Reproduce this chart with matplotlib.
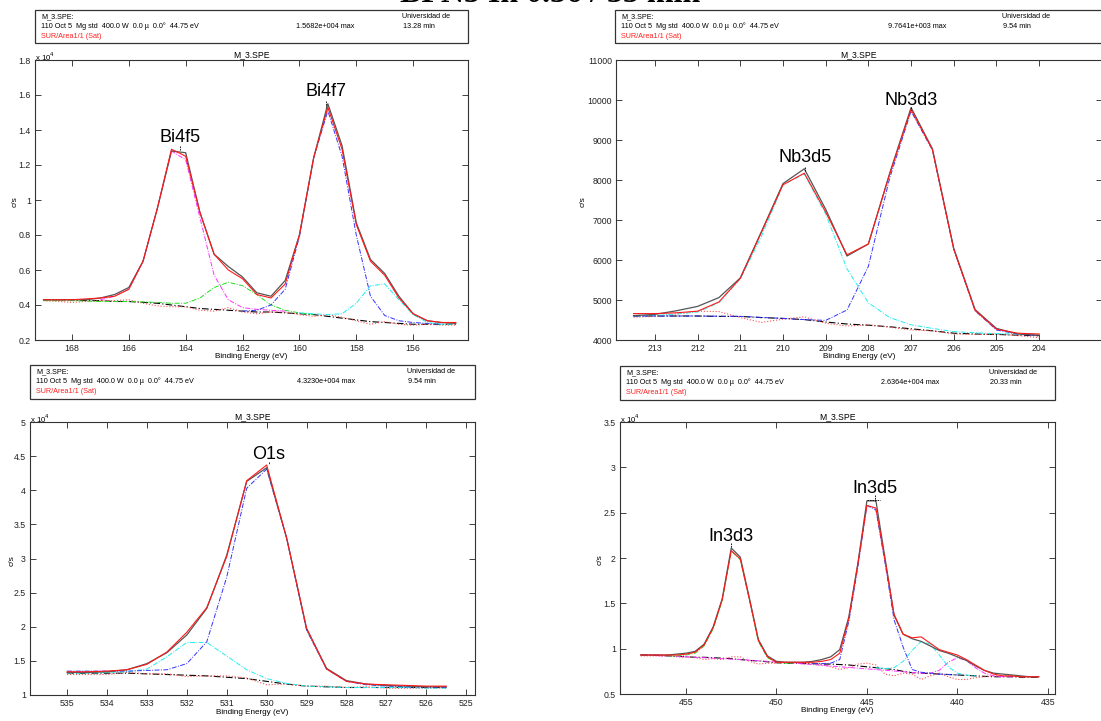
import matplotlib
matplotlib.use("Agg")
import matplotlib.pyplot as plt
from matplotlib.patches import Rectangle
from matplotlib.ticker import FuncFormatter

plt.rcParams['font.family'] = ['Liberation Sans', 'DejaVu Sans']

W, H = 1101, 721

# ---------------- Data ----------------
# Panel 1: Bi 4f
bi_x = [169, 168.5, 168, 167.5, 167, 166.5, 166, 165.5, 165, 164.5, 164, 163.5, 163, 162.5, 162,
        161.5, 161, 160.5, 160, 159.5, 159, 158.5, 158, 157.5, 157, 156.5, 156, 155.5, 155, 154.5]
bi_raw = [.43, .43, .43, .43, .44, .46, .50, .65, .95, 1.28, 1.27, .93, .69, .62, .56,
          .47, .45, .54, .80, 1.24, 1.55, 1.31, .87, .66, .58, .45, .35, .31, .30, .295]
bi_fit = [.43, .43, .43, .435, .44, .45, .49, .65, .95, 1.29, 1.25, .93, .69, .60, .55,
          .46, .44, .52, .80, 1.24, 1.53, 1.29, .86, .65, .57, .44, .35, .31, .30, .30]
bi_bg = [.43, .43, .43, .425, .425, .42, .42, .415, .41, .40, .39, .38, .375, .37, .365,
         .36, .36, .355, .35, .345, .335, .325, .315, .305, .30, .295, .29, .29, .29, .29]
bi_res = [.425, .42, .415, .42, .425, .425, .43, .41, .395, .39, .39, .37, .365, .385, .36,
          .35, .36, .36, .345, .335, .345, .33, .31, .29, .305, .29, .285, .29, .285, .285]
bi_mag_x = [167, 166.5, 166, 165.5, 165, 164.5, 164, 163.5, 163, 162.5, 162, 161.5, 161, 160.5]
bi_mag_y = [.43, .45, .49, .65, .95, 1.28, 1.23, .90, .57, .43, .385, .375, .37, .365]
bi_grn_x = [169, 168, 167, 166, 165, 164.5, 164, 163.5, 163, 162.5, 162, 161.5, 161, 160.5, 160, 159.5]
bi_grn_y = [.425, .425, .42, .42, .415, .41, .41, .44, .50, .53, .51, .46, .40, .37, .355, .345]
bi_blu_x = [162, 161.5, 161, 160.5, 160, 159.5, 159, 158.5, 158, 157.5, 157, 156.5, 156, 155.5, 155]
bi_blu_y = [.365, .37, .40, .49, .79, 1.24, 1.51, 1.25, .80, .45, .34, .31, .30, .295, .29]
bi_cya_x = [160, 159.5, 159, 158.5, 158, 157.5, 157, 156.5, 156, 155.5, 155, 154.5]
bi_cya_y = [.355, .35, .345, .35, .41, .51, .52, .43, .345, .30, .29, .29]

# Panel 2: Nb 3d
nb_x = [213.5, 213, 212.5, 212, 211.5, 211, 210.5, 210, 209.5, 209,
        208.5, 208, 207.5, 207, 206.5, 206, 205.5, 205, 204.5, 204]
nb_raw = [4610, 4640, 4730, 4840, 5060, 5550, 6720, 7910, 8280, 7270,
          6100, 6400, 8170, 9810, 8780, 6290, 4760, 4290, 4150, 4120]
nb_fit = [4660, 4660, 4680, 4720, 4950, 5540, 6700, 7880, 8170, 7200,
          6130, 6400, 8150, 9760, 8760, 6270, 4740, 4270, 4170, 4150]
nb_bg = [4600, 4600, 4600, 4600, 4590, 4590, 4560, 4540, 4510, 4450,
         4400, 4370, 4330, 4280, 4230, 4170, 4150, 4140, 4120, 4110]
nb_res = [4570, 4590, 4650, 4720, 4710, 4560, 4440, 4520, 4580, 4420,
          4350, 4380, 4320, 4250, 4230, 4150, 4140, 4150, 4110, 4060]
nb_cya_y = [4600, 4610, 4650, 4700, 4930, 5530, 6600, 7880, 8150, 7150,
            5780, 4930, 4560, 4380, 4290, 4210, 4180, 4160, 4150, 4140]
nb_blu_x = [213.5, 212, 211, 210, 209.5, 209, 208.5, 208, 207.5, 207, 206.5, 206, 205.5, 205, 204.5, 204]
nb_blu_y = [4600, 4600, 4590, 4540, 4510, 4490, 4750, 5840, 8050, 9720, 8750, 6270, 4730, 4250, 4150, 4100]

# Panel 3: O 1s  (x 10^4 c/s)
o_x = [535, 534.5, 534, 533.5, 533, 532.5, 532, 531.5, 531, 530.5,
       530, 529.5, 529, 528.5, 528, 527.5, 527, 526.5, 526, 525.5]
o_raw = [1.33, 1.33, 1.34, 1.37, 1.46, 1.62, 1.88, 2.27, 3.05, 4.13,
         4.33, 3.30, 1.97, 1.39, 1.21, 1.16, 1.14, 1.13, 1.12, 1.12]
o_fit = [1.34, 1.34, 1.35, 1.37, 1.45, 1.63, 1.92, 2.28, 3.03, 4.14,
         4.37, 3.30, 1.98, 1.38, 1.20, 1.16, 1.15, 1.14, 1.13, 1.13]
o_bg = [1.32, 1.32, 1.32, 1.32, 1.31, 1.30, 1.29, 1.28, 1.26, 1.24,
        1.20, 1.16, 1.13, 1.12, 1.11, 1.11, 1.11, 1.11, 1.11, 1.11]
o_res = [1.30, 1.30, 1.30, 1.33, 1.31, 1.31, 1.27, 1.28, 1.28, 1.25,
         1.15, 1.16, 1.13, 1.13, 1.11, 1.12, 1.10, 1.10, 1.10, 1.10]
o_cya = [1.32, 1.32, 1.33, 1.34, 1.38, 1.56, 1.77, 1.77, 1.57, 1.37,
         1.24, 1.17, 1.13, 1.12, 1.11, 1.11, 1.11, 1.11, 1.10, 1.10]
o_blu = [1.35, 1.35, 1.35, 1.35, 1.36, 1.37, 1.46, 1.78, 2.73, 4.03,
         4.31, 3.30, 1.95, 1.38, 1.20, 1.15, 1.13, 1.12, 1.12, 1.11]

# Panel 4: In 3d  (x 10^4 c/s)
in_x = [457.5, 457, 456.5, 456, 455.5, 455, 454.5, 454, 453.5, 453,
        452.5, 452, 451.5, 451, 450.5, 450, 449.5, 449, 448.5, 448,
        447.5, 447, 446.5, 446, 445.5, 445, 444.5, 444, 443.5, 443,
        442.5, 442, 441.5, 441, 440.5, 440, 439.5, 439, 438.5, 438,
        437.5, 437, 436.5, 436, 435.5]
in_raw = [.93, .93, .93, .93, .94, .95, .97, 1.05, 1.24, 1.55,
          2.11, 2.01, 1.56, 1.10, .92, .86, .85, .85, .85, .86,
          .88, .91, .99, 1.35, 1.94, 2.63, 2.63, 2.00, 1.37, 1.16,
          1.11, 1.08, 1.03, .98, .95, .91, .87, .81, .76, .73,
          .72, .71, .70, .69, .69]
in_fit = [.93, .93, .93, .93, .93, .94, .96, 1.04, 1.23, 1.54,
          2.08, 1.99, 1.55, 1.09, .91, .85, .85, .85, .85, .85,
          .86, .88, .95, 1.33, 1.93, 2.58, 2.55, 1.98, 1.38, 1.16,
          1.12, 1.13, 1.06, .99, .96, .93, .88, .82, .76, .72,
          .70, .70, .69, .69, .69]
in_bg = [.93, .93, .925, .92, .915, .91, .905, .905, .90, .895,
         .89, .88, .87, .865, .855, .845, .84, .84, .835, .835,
         .83, .83, .825, .82, .81, .80, .79, .78, .77, .75,
         .735, .73, .725, .72, .715, .71, .705, .70, .695, .69,
         .69, .69, .685, .685, .685]
in_res = [.92, .92, .92, .92, .91, .91, .90, .88, .89, .88,
          .91, .91, .86, .83, .84, .84, .85, .85, .84, .84,
          .82, .80, .77, .79, .83, .84, .82, .72, .70, .73,
          .72, .66, .70, .73, .69, .66, .66, .68, .69, .70,
          .70, .70, .69, .69, .69]
in_grn_x = [456, 455.5, 455, 454.5, 454, 453.5, 453, 452.5, 452, 451.5, 451, 450.5, 450, 449.5, 449]
in_grn_y = [.92, .92, .93, .95, 1.03, 1.22, 1.53, 2.08, 1.98, 1.54, 1.08, .90, .85, .84, .84]
in_blu_x = [448, 447.5, 447, 446.5, 446, 445.5, 445, 444.5, 444, 443.5, 443, 442.5, 442, 441.5, 441, 440.5, 440]
in_blu_y = [.835, .835, .84, .88, 1.30, 1.90, 2.58, 2.53, 1.95, 1.32, 1.02, .77, .74, .73, .72, .715, .71]
in_cya_x = [444.5, 444, 443.5, 443, 442.5, 442, 441.5, 441, 440.5, 440, 439.5, 439]
in_cya_y = [.79, .78, .79, .86, .98, 1.08, 1.05, .93, .80, .73, .71, .70]
in_mag_x = [457.5, 455, 452, 449, 442, 441.5, 441, 440.5, 440, 439.5, 439, 438.5, 438, 437.5, 437]
in_mag_y = [.93, .91, .88, .84, .73, .73, .76, .85, .90, .87, .79, .73, .70, .69, .69]

# ---------------- Helpers ----------------
fig = plt.figure(figsize=(W / 100, H / 100), dpi=100)


def fx(px):
    return px / W


def fy(py):
    return 1 - py / H


def add_axes(l, t, r, b):
    return fig.add_axes([fx(l), fy(b), (r - l) / W, (b - t) / H])


def header(l, t, r, b, maxtxt, maxx, univx, mintxt):
    fig.add_artist(Rectangle((fx(l), fy(b)), (r - l) / W, (b - t) / H,
                             transform=fig.transFigure, fill=False, lw=0.9, ec='#333333'))
    fs = 5.2
    fig.text(fx(l + 6), fy(t + 6.5), 'M_3.SPE:', fontsize=fs, va='center')
    fig.text(fx(l + 6), fy(t + 16.5),
             '110 Oct 5  Mg std  400.0 W  0.0 \u00b5  0.0\u00b0  44.75 eV', fontsize=fs, va='center')
    fig.text(fx(l + 6), fy(t + 26.5), 'SUR/Area1/1 (Sat)', fontsize=fs, va='center', color='#ff2020')
    fig.text(fx(maxx), fy(t + 16.5), maxtxt, fontsize=fs, va='center')
    fig.text(fx(univx), fy(t + 6.5), 'Universidad de', fontsize=fs, va='center')
    fig.text(fx(univx + 1), fy(t + 16.5), mintxt, fontsize=fs, va='center')


fmt = FuncFormatter(lambda v, p: '%g' % round(v, 6))


def style(ax, xlim, ylim, xticks, yticks, l, r, t, b, ylab_x, offset=False):
    ax.set_xlim(*xlim)
    ax.set_ylim(*ylim)
    ax.set_xticks(xticks)
    ax.set_yticks(yticks)
    ax.xaxis.set_major_formatter(fmt)
    ax.yaxis.set_major_formatter(fmt)
    ax.tick_params(direction='in', top=True, right=True, length=4, width=0.6,
                   labelsize=6.3, pad=3, colors='#222222')
    for s in ax.spines.values():
        s.set_linewidth(0.8)
        s.set_color('#333333')
    cx = (l + r) / 2
    fig.text(fx(cx), fy(t - 5.5), 'M_3.SPE', fontsize=6.2, ha='center', va='center')
    fig.text(fx(cx), fy(b + 17), 'Binding Energy (eV)', fontsize=5.9, ha='center', va='center')
    fig.text(fx(ylab_x), fy((t + b) / 2 + 2), 'c/s', fontsize=6.0, ha='center', va='center',
             rotation=90)
    if offset:
        fig.text(fx(l), fy(t - 3), r'x 10$^{4}$', fontsize=5.6, ha='left', va='center')


def draw(ax, x, raw, fit, bg, res, comps):
    ax.plot(x, bg, color='k', lw=0.8, ls=(0, (6, 2, 1, 2)))
    ax.plot(x, res, color='#ff5050', lw=0.8, ls=':')
    for cx_, cy_, c in comps:
        ax.plot(cx_, cy_, color=c, lw=0.7, ls=(0, (5, 1.5, 1, 1.5)))
    ax.plot(x, raw, color='#555555', lw=0.9)
    ax.plot(x, fit, color='#ff1a1a', lw=0.8)


def peak(ax, label, xp, ytxt, y0, y1):
    ax.text(xp, ytxt, label, fontsize=13, ha='center', va='center')
    ax.plot([xp, xp], [y0, y1], color='k', lw=0.6, ls=(0, (2, 1)))


# Title (mostly above the top edge, as in the original image)
fig.text(0.5, fy(1.5), 'BFN5 In 0.36 / 35 min', fontsize=23, fontweight='bold',
         family='Liberation Serif', ha='center', va='baseline')

# ---- Panel 1 ----
header(35, 10, 468, 43, '1.5682e+004 max', 296, 402, '13.28 min')
ax1 = add_axes(35, 60, 468, 340)
draw(ax1, bi_x, bi_raw, bi_fit, bi_bg, bi_res,
     [(bi_mag_x, bi_mag_y, '#ff33ff'), (bi_grn_x, bi_grn_y, '#22dd22'),
      (bi_blu_x, bi_blu_y, '#3333ff'), (bi_cya_x, bi_cya_y, '#22eeee')])
style(ax1, (169.3, 154.07), (0.2, 1.8), [168, 166, 164, 162, 160, 158, 156],
      [0.2, 0.4, 0.6, 0.8, 1.0, 1.2, 1.4, 1.6, 1.8], 35, 468, 60, 340, 15, offset=True)
peak(ax1, 'Bi4f5', 164.2, 1.36, 1.31, 1.285)
peak(ax1, 'Bi4f7', 159.05, 1.62, 1.567, 1.533)

# ---- Panel 2 ----
header(615, 10, 1104, 43, '9.7641e+003 max', 888, 1002, '9.54 min')
ax2 = add_axes(616, 60, 1101.5, 340)
draw(ax2, nb_x, nb_raw, nb_fit, nb_bg, nb_res,
     [(nb_x, nb_cya_y, '#22eeee'), (nb_blu_x, nb_blu_y, '#3333ff')])
style(ax2, (213.91, 202.54), (4000, 11000), [213, 212, 211, 210, 209, 208, 207, 206, 205, 204],
      [4000, 5000, 6000, 7000, 8000, 9000, 10000, 11000], 616, 1101.5, 60, 340, 583)
peak(ax2, 'Nb3d5', 209.49, 8550, 8330, 8220)
peak(ax2, 'Nb3d3', 207.0, 9980, 9830, 9760)

# ---- Panel 3 ----
header(30, 365, 475, 399, '4.3230e+004 max', 297, 407, '9.54 min')
ax3 = add_axes(30, 422, 475, 695)
draw(ax3, o_x, o_raw, o_fit, o_bg, o_res,
     [(o_x, o_cya, '#22eeee'), (o_x, o_blu, '#3333ff')])
style(ax3, (535.93, 524.78), (1, 5), [535, 534, 533, 532, 531, 530, 529, 528, 527, 526, 525],
      [1, 1.5, 2, 2.5, 3, 3.5, 4, 4.5, 5], 30, 475, 422, 695, 12, offset=True)
peak(ax3, 'O1s', 529.95, 4.52, 4.42, 4.38)

# ---- Panel 4 ----
header(620, 366, 1055, 400, '2.6364e+004 max', 881, 989, '20.33 min')
ax4 = add_axes(620, 422, 1055, 694)
draw(ax4, in_x, in_raw, in_fit, in_bg, in_res,
     [(in_mag_x, in_mag_y, '#ff33ff'), (in_grn_x, in_grn_y, '#22dd22'),
      (in_blu_x, in_blu_y, '#3333ff'), (in_cya_x, in_cya_y, '#22eeee')])
style(ax4, (458.65, 434.6), (0.5, 3.5), [455, 450, 445, 440, 435],
      [0.5, 1, 1.5, 2, 2.5, 3, 3.5], 620, 1055, 422, 694, 600, offset=True)
peak(ax4, 'In3d3', 452.5, 2.24, 2.16, 2.11)
peak(ax4, 'In3d5', 444.56, 2.77, 2.69, 2.63)
ax4.plot([445.0, 444.3], [2.64, 2.64], color='k', lw=0.6, ls=(0, (2, 1)))

fig.savefig('out.png', dpi=100)
